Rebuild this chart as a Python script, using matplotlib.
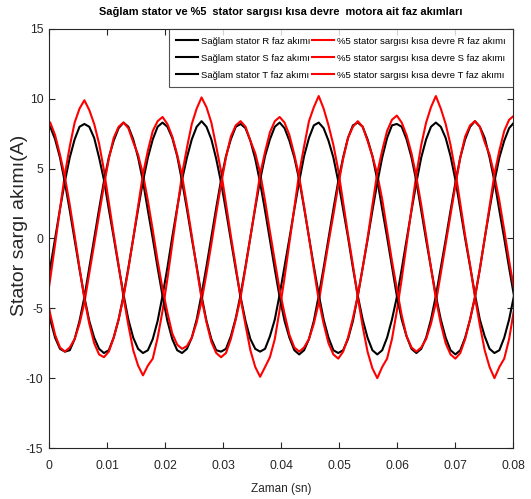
import matplotlib
matplotlib.use('Agg')
import matplotlib.pyplot as plt

plt.rcParams['font.family'] = ['Liberation Sans', 'DejaVu Sans']
plt.rcParams['axes.unicode_minus'] = False

# sample times (s)
t = [-0.00063, 0.00021, 0.00105, 0.00189, 0.00274, 0.00358, 0.00442, 0.00526,
     0.00610, 0.00694, 0.00779, 0.00863, 0.00947, 0.01031, 0.01115, 0.01200,
     0.01284, 0.01368, 0.01452, 0.01536, 0.01620, 0.01705, 0.01789, 0.01873,
     0.01957, 0.02041, 0.02125, 0.02210, 0.02294, 0.02378, 0.02462, 0.02546,
     0.02630, 0.02715, 0.02799, 0.02883, 0.02967, 0.03051, 0.03135, 0.03220,
     0.03304, 0.03388, 0.03472, 0.03556, 0.03640, 0.03725, 0.03809, 0.03893,
     0.03977, 0.04061, 0.04145, 0.04230, 0.04314, 0.04398, 0.04482, 0.04566,
     0.04650, 0.04735, 0.04819, 0.04903, 0.04987, 0.05071, 0.05155, 0.05240,
     0.05324, 0.05408, 0.05492, 0.05576, 0.05660, 0.05745, 0.05829, 0.05913,
     0.05997, 0.06081, 0.06165, 0.06250, 0.06334, 0.06418, 0.06502, 0.06586,
     0.06670, 0.06755, 0.06839, 0.06923, 0.07007, 0.07091, 0.07175, 0.07260,
     0.07344, 0.07428, 0.07512, 0.07596, 0.07680, 0.07765, 0.07849, 0.07933,
     0.08017, 0.08101, 0.08185]

# healthy stator phase currents (A)
saglam_R = [-4.1, -2.1, 0.0, 2.1, 4.1, 5.8, 7.1, 8.0,
            8.2, 8.0, 7.2, 5.8, 4.2, 2.1, 0.1, -2.0, -4.0, -5.8, -7.1, -7.9,
            -8.2, -8.0, -7.2, -5.9, -4.1, -2.1, 0.1, 2.2, 4.2, 5.8, 7.1, 8.0,
            8.4, 8.0, 7.1, 5.7, 4.0, 2.0, -0.1, -2.2, -4.2, -5.9, -7.2, -7.9,
            -8.1, -7.9, -7.0, -5.8, -4.0, -2.0, 0.0, 2.1, 4.1, 5.9, 7.2, 8.1,
            8.3, 7.9, 7.0, 5.8, 4.1, 2.1, 0.1, -2.1, -4.1, -5.8, -7.1, -8.0,
            -8.3, -8.0, -7.1, -5.8, -4.2, -2.2, -0.1, 2.0, 4.0, 5.8, 7.1, 8.0,
            8.3, 8.0, 7.2, 5.9, 4.2, 2.1, 0.0, -2.0, -4.0, -5.8, -7.0, -7.9,
            -8.2, -8.0, -7.1, -5.8, -4.1, -2.0, 0.1]
saglam_S = [-4.0, -5.8, -7.1, -7.9, -8.1, -8.0, -7.2, -5.9,
            -4.2, -2.1, 0.0, 2.1, 4.1, 5.8, 7.0, 7.9,
            8.3, 8.0, 7.1, 5.8, 4.1, 2.0, 0.0, -2.1, -4.1, -5.9, -7.2, -8.0,
            -8.2, -7.9, -7.1, -5.8, -4.0, -2.0, 0.1, 2.2, 4.2, 5.9, 7.1, 8.0,
            8.2, 7.9, 7.0, 5.7, 4.0, 2.0, -0.1, -2.2, -4.2, -5.9, -7.1, -8.0,
            -8.3, -8.0, -7.2, -5.9, -4.1, -2.1, 0.0, 2.1, 4.1, 5.8, 7.2, 8.1,
            8.3, 8.0, 7.1, 5.9, 4.2, 2.1, 0.1, -2.0, -4.1, -5.8, -7.0, -7.9,
            -8.2, -7.9, -7.1, -5.8, -4.1, -2.1, -0.1, 2.0, 4.0, 5.8, 7.1, 8.0,
            8.4, 8.0, 7.2, 5.8, 4.1, 2.0, 0.0, -2.1, -4.1, -5.9, -7.1]
saglam_T = [8.2, 8.0, 7.1, 5.8, 4.0, 2.0, -0.1, -2.2, -4.2, -5.9, -7.1, -7.9,
            -8.2, -8.0, -7.1, -5.8, -4.1, -2.1, 0.0, 2.1, 4.1, 5.8, 7.1, 8.0,
            8.3, 8.0, 7.2, 5.9, 4.1, 2.1, 0.0, -2.0, -4.1, -5.9, -7.2, -8.0,
            -8.1, -7.9, -7.0, -5.7, -4.0, -2.0, 0.1, 2.2, 4.2, 5.9, 7.1, 8.0,
            8.3, 7.9, 7.0, 5.8, 4.2, 2.2, 0.1, -2.0, -4.0, -5.8, -7.1, -8.0,
            -8.2, -8.0, -7.2, -5.9, -4.1, -2.1, -0.1, 2.0, 4.0, 5.8, 7.2, 8.1,
            8.2, 8.0, 7.1, 5.8, 4.1, 2.0, -0.1, -2.1, -4.1, -5.8, -7.1, -8.0,
            -8.3, -8.0, -7.1, -5.8, -4.2, -2.2, 0.0, 2.1, 4.1, 5.8, 7.0, 7.9,
            8.3, 8.0, 7.1]

# %5 stator winding short circuit phase currents (A)
kisa_R = [-5.2, -2.9, -0.4, 2.1, 4.6, 6.6, 8.3, 9.3,
          9.9, 9.2, 8.2, 6.8, 4.9, 2.6, 0.3, -1.9, -4.2, -6.2, -8.0, -9.1,
          -9.8, -9.1, -8.6, -7.1, -5.2, -2.9, -0.4, 2.1, 4.6, 6.5, 8.2, 9.3,
          10.1, 9.4, 8.3, 6.6, 4.8, 2.5, 0.2, -2.0, -4.3, -6.2, -8.0, -9.2,
          -9.9, -9.2, -8.5, -7.2, -5.1, -2.8, -0.3, 2.2, 4.7, 6.6, 8.4, 9.4,
          10.2, 9.3, 8.1, 6.7, 4.9, 2.6, 0.3, -1.9, -4.2, -6.3, -8.1, -9.3,
          -10.0, -9.2, -8.6, -7.2, -5.2, -2.9, -0.4, 2.1, 4.6, 6.7, 8.3, 9.4,
          10.2, 9.3, 8.2, 6.7, 4.8, 2.5, 0.2, -1.9, -4.2, -6.2, -8.0, -9.2,
          -10.0, -9.2, -8.6, -7.2, -5.1, -2.9, -0.3]
kisa_S = [-3.6, -5.4, -6.9, -7.8, -8.1, -7.8, -7.2, -6.1,
          -4.6, -2.5, -0.4, 1.7, 3.8, 5.7, 7.2, 8.0,
          8.3, 7.9, 6.9, 6.0, 4.6, 2.7, 0.6, -1.6, -3.6, -5.3, -6.8, -7.6,
          -7.9, -7.7, -7.1, -6.0, -4.5, -2.5, -0.4, 1.8, 3.9, 5.8, 7.3, 8.1,
          8.4, 8.0, 7.0, 6.1, 4.7, 2.7, 0.5, -1.6, -3.7, -5.4, -6.9, -7.8,
          -8.1, -7.8, -7.2, -6.1, -4.6, -2.4, -0.3, 1.7, 3.8, 5.7, 7.2, 8.0,
          8.4, 8.0, 7.0, 5.9, 4.6, 2.8, 0.6, -1.6, -3.6, -5.5, -7.0, -7.8,
          -8.1, -7.8, -7.2, -6.1, -4.6, -2.5, -0.4, 1.7, 3.8, 5.8, 7.3, 8.1,
          8.4, 8.0, 6.9, 6.0, 4.5, 2.7, 0.6, -1.6, -3.6, -5.4, -6.9]
kisa_T = [8.6, 8.3, 7.4, 6.0, 4.4, 2.4, 0.2, -2.1, -4.3, -6.1, -7.5, -8.3,
          -8.5, -8.1, -7.1, -5.8, -4.2, -2.2, 0.0, 2.3, 4.6, 6.3, 7.7, 8.4,
          8.7, 8.2, 7.3, 6.0, 4.5, 2.4, 0.2, -2.1, -4.3, -6.0, -7.4, -8.2,
          -8.5, -8.2, -7.2, -5.8, -4.2, -2.1, 0.1, 2.3, 4.6, 6.2, 7.6, 8.4,
          8.7, 8.3, 7.4, 6.0, 4.4, 2.3, 0.1, -2.2, -4.4, -6.1, -7.5, -8.3,
          -8.6, -8.1, -7.1, -5.7, -4.1, -2.1, 0.0, 2.4, 4.7, 6.3, 7.7, 8.5,
          8.8, 8.3, 7.4, 6.1, 4.4, 2.4, 0.2, -2.1, -4.3, -6.1, -7.5, -8.3,
          -8.6, -8.2, -7.2, -5.8, -4.2, -2.2, 0.0, 2.3, 4.6, 6.3, 7.7, 8.5,
          8.8, 8.3, 7.3]

labels_saglam = ['Sağlam stator R faz akımı', 'Sağlam stator S faz akımı',
                 'Sağlam stator T faz akımı']
labels_kisa = ['%5 stator sargısı kısa devre R faz akımı',
               '%5 stator sargısı kısa devre S faz akımı',
               '%5 stator sargısı kısa devre T faz akımı']

fig = plt.figure(figsize=(5.31, 4.99), dpi=100)
ax = fig.add_axes([0.0923, 0.1022, 0.8738, 0.8397])

lw = 1.5
hb = []
hr = []
for yb, yr, lb, lr in zip([saglam_R, saglam_S, saglam_T], [kisa_R, kisa_S, kisa_T],
                          labels_saglam, labels_kisa):
    h1, = ax.plot(t, yb, color='black', lw=lw, label=lb)
    h2, = ax.plot(t, yr, color='#ff0000', lw=lw, label=lr)
    hb.append(h1)
    hr.append(h2)

ax.set_xlim(0, 0.08)
ax.set_ylim(-15, 15)
ax.set_xticks([0, 0.01, 0.02, 0.03, 0.04, 0.05, 0.06, 0.07, 0.08])
ax.set_xticklabels(['0', '0.01', '0.02', '0.03', '0.04', '0.05', '0.06', '0.07', '0.08'])
ax.set_yticks([-15, -10, -5, 0, 5, 10, 15])
ax.tick_params(direction='in', top=True, right=True, length=4, labelsize=8.8,
               colors='#262626', width=0.8, pad=4)
ax.tick_params(axis='x', pad=8.5)
for s in ax.spines.values():
    s.set_color('#262626')
    s.set_linewidth(0.8)

ax.set_xlabel('Zaman (sn)', fontsize=8.5, color='#262626', labelpad=8)
ax.set_ylabel('Stator sargı akımı(A)', fontsize=14, color='#262626')
ax.yaxis.set_label_coords(-0.046, 0.532)
ax.set_title('Sağlam stator ve %5  stator sargısı kısa devre  motora ait faz akımları',
             fontsize=7.9, fontweight='bold', pad=10)

leg = ax.legend(hb + hr, labels_saglam + labels_kisa, ncol=2, loc='upper right',
                fontsize=6.8, frameon=True, fancybox=False, edgecolor='#262626',
                borderaxespad=0, handlelength=2.3, handletextpad=0.3,
                columnspacing=0.2, labelspacing=0.85, borderpad=0.8)
leg.get_frame().set_linewidth(0.8)

fig.savefig('out.png', dpi=100)
